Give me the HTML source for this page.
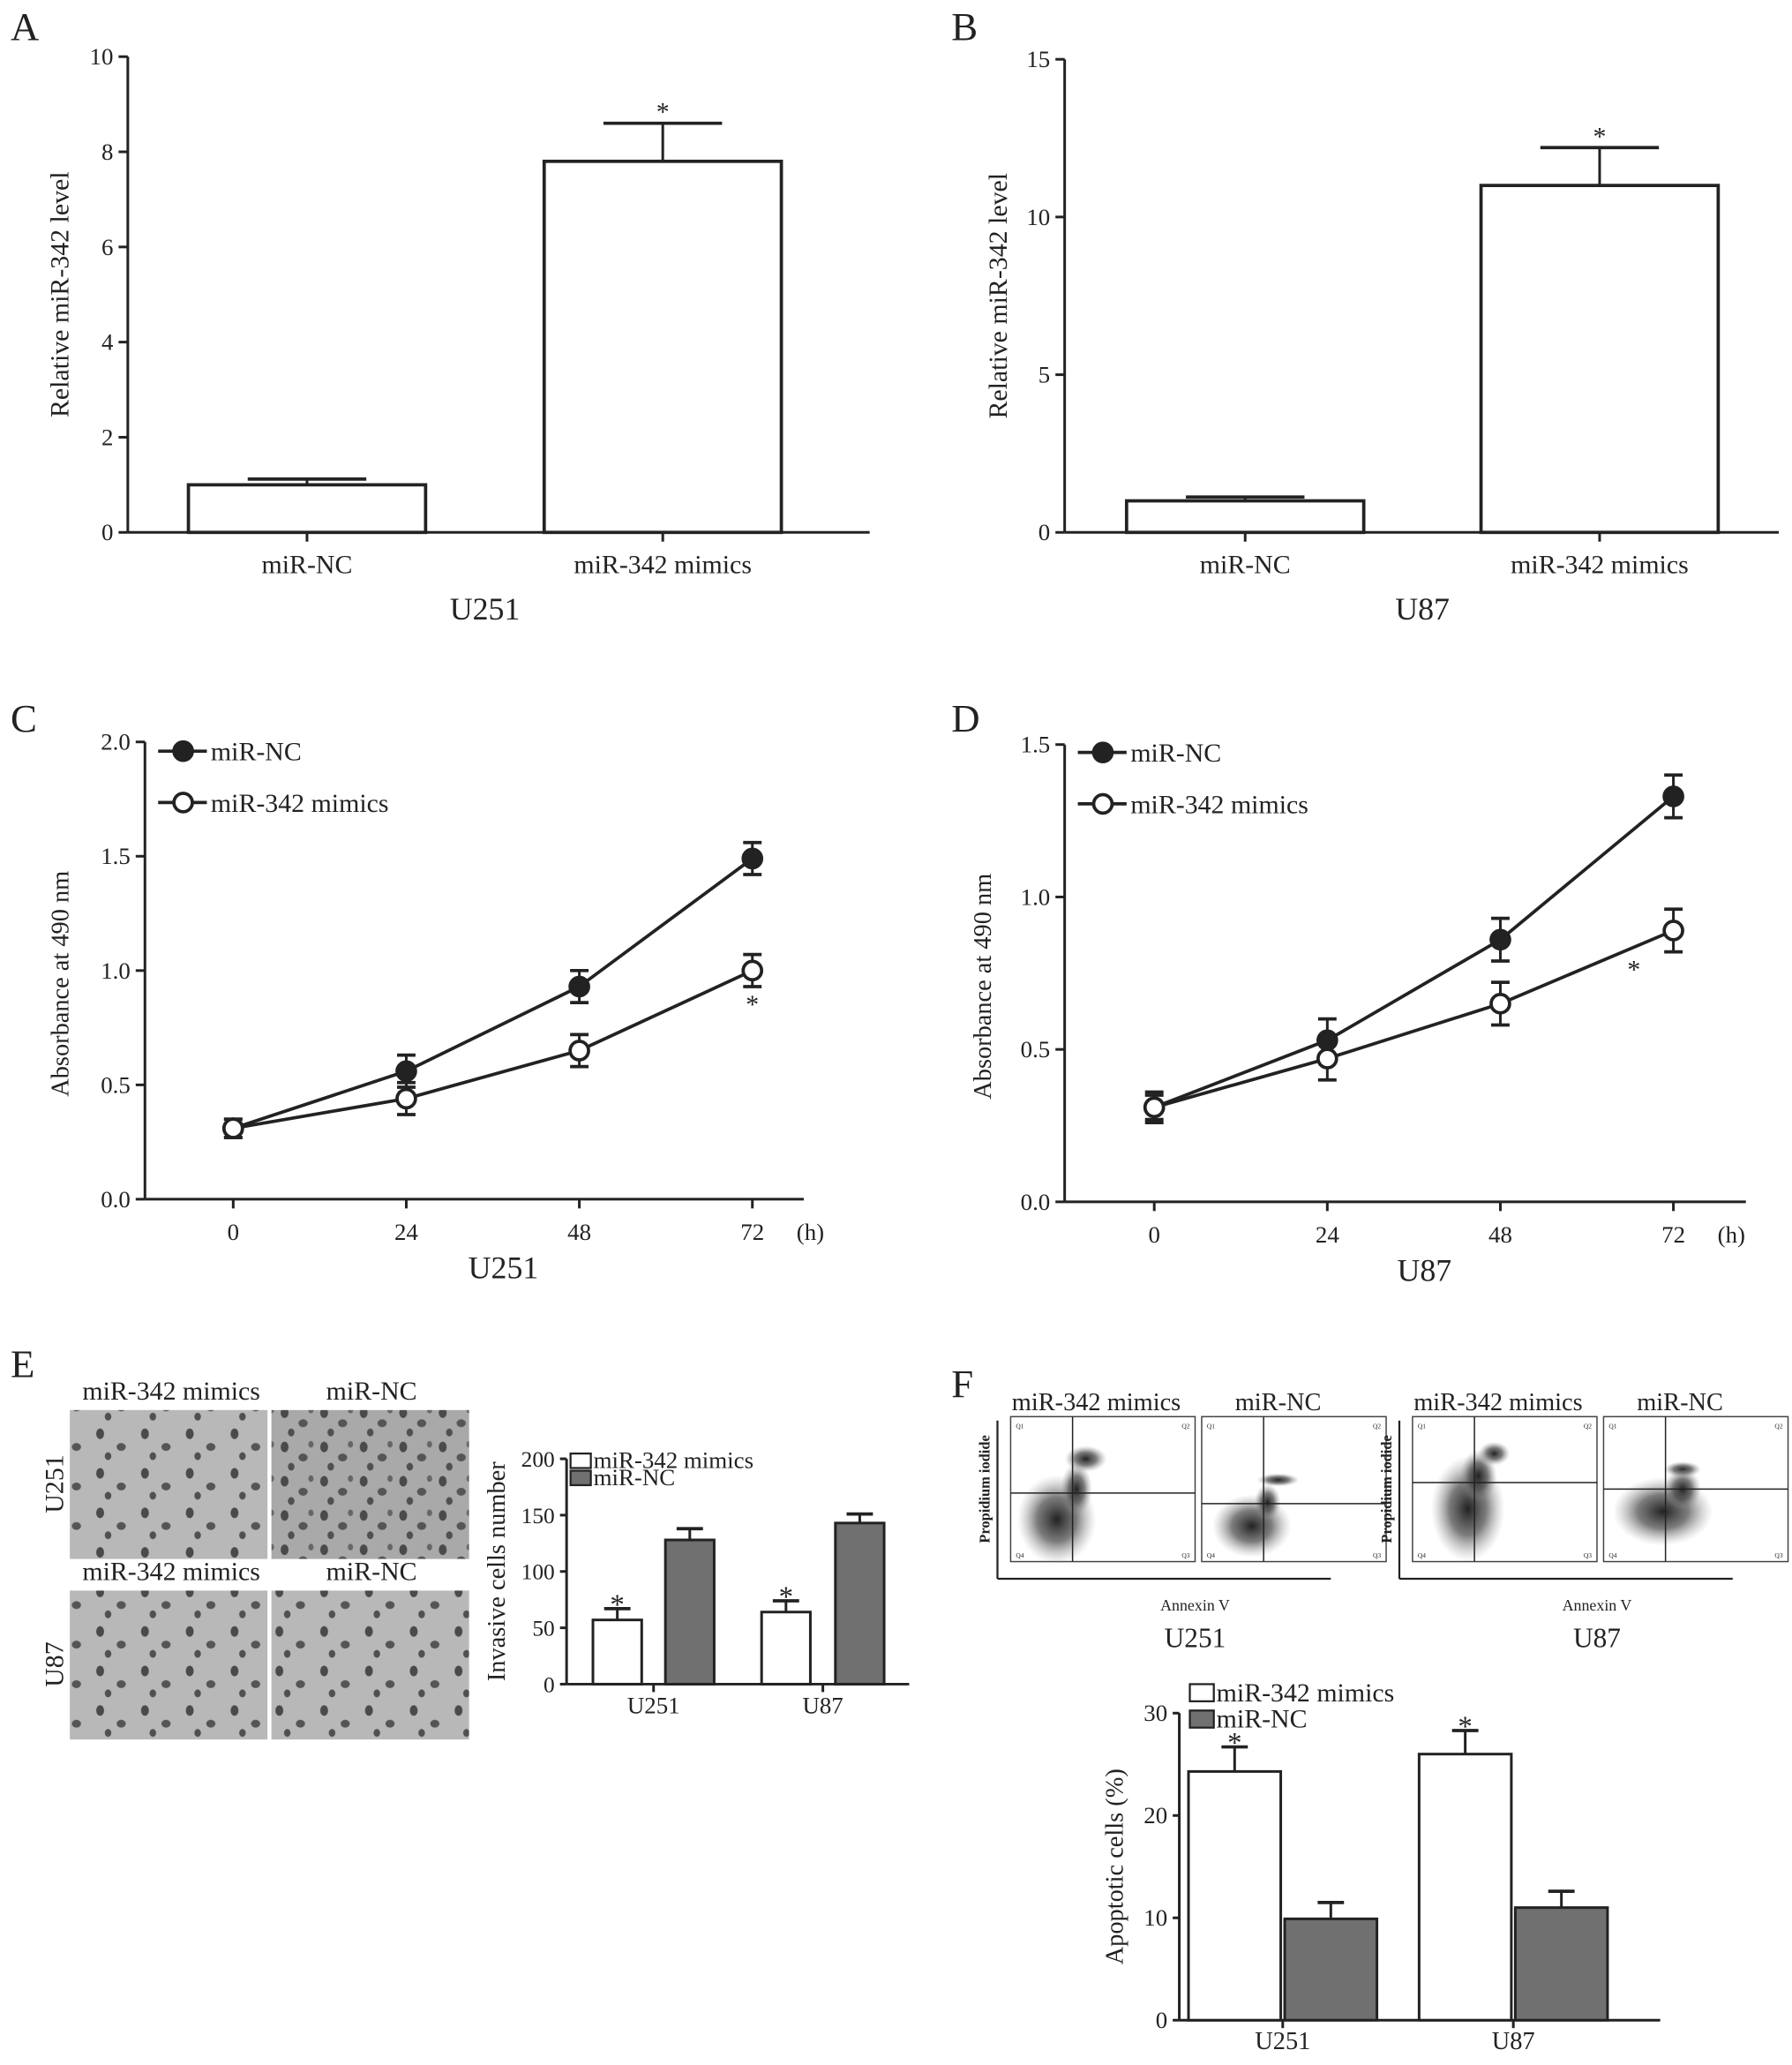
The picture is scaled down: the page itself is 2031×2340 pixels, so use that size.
<!DOCTYPE html>
<html><head><meta charset="utf-8"><style>
html,body{margin:0;padding:0;background:#fff}
svg{display:block}
text{font-family:"Liberation Serif",serif;fill:#222}
</style></head><body>
<svg id="fig" width="2031" height="2340" viewBox="0 0 1360 1567" preserveAspectRatio="none" xmlns="http://www.w3.org/2000/svg">
<defs>
<pattern id="cells" width="30" height="26" patternUnits="userSpaceOnUse">
<rect width="30" height="26" fill="#a9a9a9"/>
<ellipse cx="6" cy="6" rx="3" ry="4" fill="#4a4a4a"/>
<ellipse cx="20" cy="14" rx="3.5" ry="3" fill="#555"/>
<ellipse cx="11" cy="21" rx="2.5" ry="3" fill="#505050"/>
<ellipse cx="26" cy="4" rx="2" ry="2.5" fill="#666"/>
</pattern>
<pattern id="cells2" width="34" height="30" patternUnits="userSpaceOnUse">
<rect width="34" height="30" fill="#b8b8b8"/>
<ellipse cx="8" cy="8" rx="3" ry="4" fill="#4a4a4a"/>
<ellipse cx="24" cy="18" rx="3.5" ry="3" fill="#555"/>
<ellipse cx="14" cy="25" rx="2.5" ry="3" fill="#505050"/>
</pattern>
<radialGradient id="blob"><stop offset="0" stop-color="#222" stop-opacity="1"/><stop offset="0.5" stop-color="#444" stop-opacity="0.7"/><stop offset="1" stop-color="#999" stop-opacity="0"/></radialGradient>
</defs>
<g id="root"></g>
</svg>
<script>
// ---- data ----
const barCatsAB = ["miR-NC", "miR-342 mimics"];
const aValues = [1.0, 7.8];
const aErrors = [0.12, 0.8];
const aTicks = [0, 2, 4, 6, 8, 10];
const bValues = [1.0, 11.0];
const bErrors = [0.12, 1.2];
const bTicks = [0, 5, 10, 15];
const timeCats = [0, 24, 48, 72];
const cNC = [0.31, 0.56, 0.93, 1.49];
const cNCerr = [0.04, 0.07, 0.07, 0.07];
const cMim = [0.31, 0.44, 0.65, 1.00];
const cMimErr = [0.04, 0.07, 0.07, 0.07];
const cTicks = ["0.0", "0.5", "1.0", "1.5", "2.0"];
const dNC = [0.31, 0.53, 0.86, 1.33];
const dNCerr = [0.05, 0.07, 0.07, 0.07];
const dMim = [0.31, 0.47, 0.65, 0.89];
const dMimErr = [0.04, 0.07, 0.07, 0.07];
const dTicks = ["0.0", "0.5", "1.0", "1.5"];
const groupCats = ["U251", "U87"];
const eMim = [57, 64];
const eMimErr = [10, 10];
const eNC = [128, 143];
const eNCerr = [10, 8];
const eTicks = [0, 50, 100, 150, 200];
const fMim = [24.3, 26.0];
const fMimErr = [2.4, 2.3];
const fNC = [9.9, 11.0];
const fNCerr = [1.6, 1.6];
const fTicks = [0, 10, 20, 30];

const NS = "http://www.w3.org/2000/svg";
const root = document.getElementById("root");
function el(tag, attrs, parent, txt) {
  const e = document.createElementNS(NS, tag);
  for (const k in attrs) e.setAttribute(k, attrs[k]);
  if (txt !== undefined) e.textContent = txt;
  (parent || root).appendChild(e);
  return e;
}
function line(x1,y1,x2,y2,w,p){ return el("line",{x1,y1,x2,y2,stroke:"#222","stroke-width":w||2},p); }
function txt(x,y,s,size,anchor,p,extra){ const a={x,y,"font-size":size,"text-anchor":anchor||"middle"}; Object.assign(a,extra||{}); return el("text",a,p,s); }
function lin(d0,d1,r0,r1){ return v => r0 + (v-d0)/(d1-d0)*(r1-r0); }

function panelLetter(x,y,s){
  const t = txt(x,y,s,30,"start");
  
  
}

function yAxis(g, x, yScale, ticks, fmt, size, tickLen){
  line(x, yScale(ticks[ticks.length-1]) , x, yScale(ticks[0]), 2, g);
  ticks.forEach(t=>{
    const y = yScale(+t);
    line(x-(tickLen||7), y, x, y, 2, g);
    const lbl = txt(x-(tickLen||7)-4, y+6, fmt? fmt(t): String(t), size||18, "end", g);
    
    
  });
}
function errBar(g, x, yTop, yErr, half){
  line(x, yTop, x, yErr, 2, g);
  line(x-half, yErr, x+half, yErr, 2.5, g);
}

function barPanel(name, vals, errs, ticks, yTop, yBot, axisX, axisEnd, barX, barW, cell, title, yTitleX){
  const g = el("g",{});  
  const ys = lin(0, ticks[ticks.length-1], yBot, yTop);
  yAxis(g, axisX, ys, ticks, null, 18);
  line(axisX, yBot, axisEnd, yBot, 2, g);
  vals.forEach((v,i)=>{
    const x = barX[i];
    errBar(g, x+barW/2, ys(v), ys(v+errs[i]), 45);
    const r = el("rect",{x, y:ys(v), width:barW, height:yBot-ys(v), fill:"#fff", stroke:"#222","stroke-width":2.5},g);
    
    
    line(x+barW/2, yBot, x+barW/2, yBot+7, 2, g);
    const l = txt(x+barW/2, yBot+31, barCatsAB[i], 20, "middle", g);
    
    
    if(i===1){ const s=txt(x+barW/2, ys(v+errs[i])-2, "*", 20, "middle", g);   }
  });
  const t = txt((barX[0]+barX[1]+barW)/2, yBot+66, title, 24, "middle", g);
   
  const yt = txt(0,0,"Relative miR-342 level",20,"middle",g,{transform:`translate(${yTitleX},${(yTop+yBot)/2}) rotate(-90)`});
   
}
panelLetter(8,30,"A");
barPanel("chart-a-u251", aValues, aErrors, aTicks, 43, 404, 97, 660, [143,413], 180, null, "U251", 52);
panelLetter(722,30,"B");
barPanel("chart-b-u87", bValues, bErrors, bTicks, 45, 404, 808, 1350, [855,1124], 180, null, "U87", 764);

function linePanel(name, nc, ncErr, mim, mimErr, ticks, yTop, yBot, axisX, axisEnd, xPos0, xPos3, title, yTitleX, legY, legX, starOff){
  const g = el("g",{});  
  const maxT = +ticks[ticks.length-1];
  const ys = lin(0, maxT, yBot, yTop);
  const xs = lin(timeCats[0], timeCats[timeCats.length-1], xPos0, xPos3);
  yAxis(g, axisX, ys, ticks, null, 18);
  line(axisX, yBot, axisEnd, yBot, 2, g);
  timeCats.forEach(t=>{
    line(xs(t), yBot, xs(t), yBot+7, 2, g);
    const l = txt(xs(t), yBot+31, String(t), 18, "middle", g);
     
  });
  const h = txt(xs(72)+44, yBot+31, "(h)", 18, "middle", g);  
  const tt = txt((xs(0)+xs(72))/2+8, yBot+60, title, 24, "middle", g);  
  const yt = txt(0,0,"Absorbance at 490 nm",19,"middle",g,{transform:`translate(${yTitleX},${(yTop+yBot)/2+10}) rotate(-90)`});
   
  function series(vals, errs, filled, sname){
    const pts = vals.map((v,i)=>`${xs(timeCats[i])},${ys(v)}`).join(" ");
    const pl = el("polyline",{points:pts, fill:"none", stroke:"#222","stroke-width":2.5},g);
     
    vals.forEach((v,i)=>{
      const x = xs(timeCats[i]);
      line(x, ys(v-errs[i]), x, ys(v+errs[i]), 2, g);
      line(x-7, ys(v-errs[i]), x+7, ys(v-errs[i]), 2.5, g);
      line(x-7, ys(v+errs[i]), x+7, ys(v+errs[i]), 2.5, g);
      const c = el("circle",{cx:x, cy:ys(v), r:7, fill: filled?"#222":"#fff", stroke:"#222","stroke-width":2.5},g);
       
    });
  }
  series(nc, ncErr, true, "mir-nc");
  series(mim, mimErr, false, "mir-342-mimics");
  const last = mim.length-1;
  const st = txt(xs(timeCats[last])+starOff, ys(mim[last]-mimErr[last])+20, "*", 20, "middle", g);
   
  [["miR-NC",true],["miR-342 mimics",false]].forEach((e,i)=>{
    const lg = el("g",{},g);  
    const y = legY + i*39;
    line(legX, y, legX+37, y, 2.5, lg);
    el("circle",{cx:legX+19, cy:y, r:7, fill:e[1]?"#222":"#fff", stroke:"#222","stroke-width":2.5},lg);
    txt(legX+40, y+7, e[0], 20, "start", lg);
  });
}
panelLetter(8,555,"C");
linePanel("chart-c-u251", cNC, cNCerr, cMim, cMimErr, cTicks, 563, 910, 110, 610, 177, 571, "U251", 52, 570, 120, 0);
panelLetter(722,555,"D");
linePanel("chart-d-u87", dNC, dNCerr, dMim, dMimErr, dTicks, 565, 912, 808, 1325, 876, 1270, "U87", 752, 571, 818, -30);

panelLetter(8,1045,"E");
(function(){
  const g = el("g",{});  
  [[1070,"url(#cells)"],[1207,"url(#cells2)"]].forEach((row,ri)=>{
    [53,206].forEach((x,ci)=>{
      const r = el("rect",{x, y:row[0], width:150, height:113, fill: ci===0 && ri===0 ? "url(#cells2)" : row[1]},g);
       
    });
    txt(130,row[0]-8,"miR-342 mimics",20,"middle",g);
    txt(282,row[0]-8,"miR-NC",20,"middle",g);
  });
  txt(0,0,"U251",20,"middle",g,{transform:"translate(48,1126) rotate(-90)"});
  txt(0,0,"U87",20,"middle",g,{transform:"translate(48,1263) rotate(-90)"});
})();

function groupChart(name, mim, mimErr, nc, ncErr, ticks, yTop, yBot, axisX, axisEnd, mimX, ncX, barW, yTitle, yTitleX, tickSize, legX, legY, legH, legGap, legSize){
  const g = el("g",{});  
  const ys = lin(0, ticks[ticks.length-1], yBot, yTop);
  yAxis(g, axisX, ys, ticks, null, tickSize, 5);
  line(axisX, yBot, axisEnd, yBot, 2, g);
  groupCats.forEach((c,i)=>{
    errBar(g, mimX[i]+barW/2, ys(mim[i]), ys(mim[i]+mimErr[i]), 10);
    const b1 = el("rect",{x:mimX[i], y:ys(mim[i]), width:barW, height:yBot-ys(mim[i]), fill:"#fff", stroke:"#222","stroke-width":2},g);
     
    errBar(g, ncX[i]+barW/2, ys(nc[i]), ys(nc[i]+ncErr[i]), 10);
    const b2 = el("rect",{x:ncX[i], y:ys(nc[i]), width:barW, height:yBot-ys(nc[i]), fill:"#707070", stroke:"#222","stroke-width":2},g);
     
    const cx = (mimX[i]+ncX[i]+barW)/2;
    line(cx, yBot, cx, yBot+6, 2, g);
    const l = txt(cx, yBot+22, c, tickSize+1, "middle", g);  
    const s = txt(mimX[i]+barW/2, ys(mim[i]+mimErr[i])+4, "*", 22, "middle", g);  
  });
  const yt = txt(0,0,yTitle,19,"middle",g,{transform:`translate(${yTitleX},${(yTop+yBot)/2}) rotate(-90)`});
   
  [["miR-342 mimics","#fff"],["miR-NC","#707070"]].forEach((e,i)=>{
    const lg = el("g",{},g);  
    const y = legY + i*legGap;
    el("rect",{x:legX, y, width:legH*1.4, height:legH, fill:e[1], stroke:"#222","stroke-width":1.5},lg);
    txt(legX+legH*1.4+2, y+legH, e[0], legSize, "start", lg);
  });
}
groupChart("chart-e-invasion", eMim, eMimErr, eNC, eNCerr, eTicks, 1107, 1278, 430, 690, [450,578], [505,634], 37, "Invasive cells number", 383, 17, 433, 1103, 11, 13, 18);

panelLetter(722,1060,"F");
function flowGroup(name, ox, hLines, blobs){
  const g = el("g",{});  
  txt(ox+75,1070,"miR-342 mimics",19,"middle",g);
  txt(ox+213,1070,"miR-NC",19,"middle",g);
  line(ox, 1078, ox, 1198, 1.5, g);
  line(ox, 1198, ox+253, 1198, 1.5, g);
  [ox+10, ox+155].forEach((bx,k)=>{
    const p = el("g",{},g);  
    el("rect",{x:bx, y:1075, width:140, height:110, fill:"#fff", stroke:"#444","stroke-width":1},p);
    blobs[k].forEach(b=> el("ellipse",{cx:bx+b[0], cy:1075+b[1], rx:b[2], ry:b[3], fill:"url(#blob)"},p));
    line(bx+47, 1075, bx+47, 1185, 1, p);
    line(bx, 1075+hLines[k], bx+140, 1075+hLines[k], 1, p);
    txt(bx+4,1084,"Q1",5,"start",p); txt(bx+136,1084,"Q2",5,"end",p);
    txt(bx+4,1182,"Q4",5,"start",p); txt(bx+136,1182,"Q3",5,"end",p);
  });
  txt(0,0,"Propidium iodide",11,"middle",g,{transform:`translate(${ox-6},1130) rotate(-90)`,"font-family":"Liberation Sans","font-weight":"bold"});
  txt(ox+150,1222,"Annexin V",12,"middle",g);
  txt(ox+150,1250,name.indexOf("u251")>=0?"U251":"U87",21,"middle",g);
}
flowGroup("flow-u251", 757, [58,66], [[[35,78,30,34],[57,32,16,10],[50,55,12,20]],[[38,83,30,24],[58,48,16,5],[50,65,10,14]]]);
flowGroup("flow-u87", 1062, [50,55], [[[42,70,28,40],[62,28,12,9],[50,45,14,20]],[[45,72,38,26],[60,40,14,6],[60,55,14,16]]]);

groupChart("chart-f-apoptosis", fMim, fMimErr, fNC, fNCerr, fTicks, 1300, 1533, 895, 1260, [902,1077], [975,1150], 70, "Apoptotic cells (%)", 852, 18, 903, 1278, 13, 20, 20);
</script>
</body></html>
